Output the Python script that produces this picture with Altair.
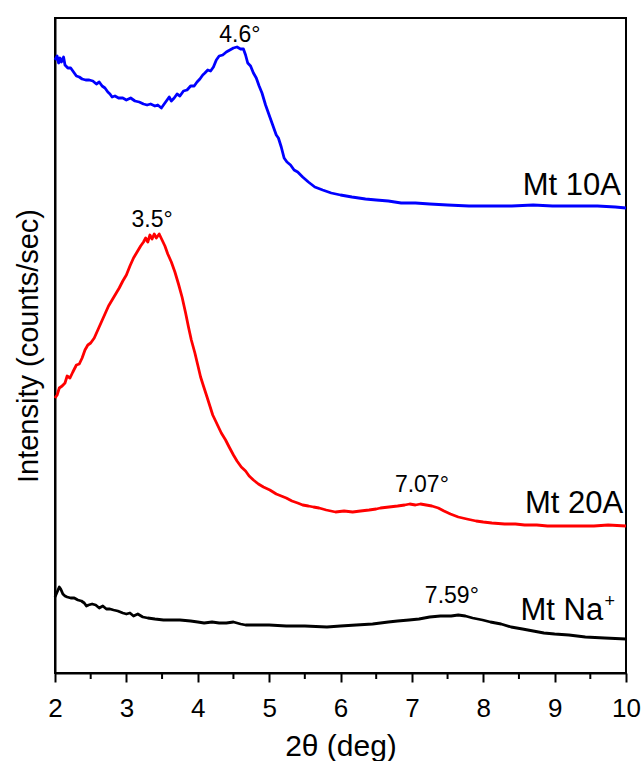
import altair as alt
import pandas as pd

# ---- data (2theta in deg, intensity in arbitrary counts) ----
blue_x = [2.00, 2.03, 2.05, 2.07, 2.09, 2.12, 2.14, 2.18, 2.22, 2.26, 2.30, 2.34, 2.38, 2.43, 2.48, 2.53,
          2.58, 2.62, 2.66, 2.70, 2.74, 2.77, 2.80, 2.84, 2.89, 2.95, 3.00, 3.06, 3.12, 3.18, 3.24, 3.29,
          3.34, 3.40, 3.44, 3.49, 3.53, 3.57, 3.60, 3.63, 3.67, 3.71, 3.75, 3.80, 3.85, 3.90, 3.95, 3.99,
          4.03, 4.07, 4.10, 4.14, 4.18, 4.22, 4.26, 4.30, 4.35, 4.40, 4.45, 4.50, 4.55, 4.60, 4.64, 4.67,
          4.70, 4.74, 4.78, 4.82, 4.86, 4.90, 4.95, 5.00, 5.05, 5.10, 5.13, 5.17, 5.21, 5.25, 5.30, 5.35,
          5.40, 5.47, 5.55, 5.64, 5.75, 5.87, 6.00, 6.16, 6.35, 6.50, 6.67, 6.85, 7.05, 7.25, 7.50, 7.80,
          8.11, 8.40, 8.70, 8.97, 9.30, 9.60, 9.85, 10.00]
blue_y = [613, 617, 610, 615, 611, 616, 608, 605, 605, 601, 597, 596, 594, 593, 593, 592,
          589, 591, 587, 585, 581, 579, 576, 577, 575, 575, 573, 575, 572, 571, 569, 568,
          569, 567, 568, 565, 569, 573, 576, 572, 575, 579, 577, 582, 583, 587, 587, 591,
          594, 598, 600, 603, 602, 606, 613, 617, 618, 621, 623, 625, 626, 624, 624, 618,
          610, 607, 600, 595, 587, 580, 568, 558, 548, 538, 535, 526, 515, 511, 508, 503,
          501, 496, 491, 486, 483, 480, 478, 476, 474, 473, 472, 470, 470, 469, 468, 467,
          467, 467, 468, 467, 467, 467, 466, 465]

red_x = [2.00, 2.03, 2.06, 2.10, 2.14, 2.17, 2.21, 2.25, 2.30, 2.34, 2.38, 2.42, 2.46, 2.50, 2.55, 2.60,
         2.65, 2.70, 2.75, 2.80, 2.85, 2.90, 2.95, 3.00, 3.05, 3.10, 3.15, 3.20, 3.24, 3.27, 3.30, 3.33,
         3.36, 3.39, 3.42, 3.46, 3.50, 3.54, 3.58, 3.63, 3.68, 3.73, 3.78, 3.83, 3.87, 3.91, 3.96, 4.00,
         4.04, 4.08, 4.13, 4.17, 4.21, 4.27, 4.33, 4.39, 4.44, 4.50, 4.55, 4.61, 4.67, 4.72, 4.78, 4.85,
         4.92, 5.01, 5.10, 5.17, 5.24, 5.32, 5.40, 5.47, 5.55, 5.62, 5.70, 5.80, 5.93, 6.05, 6.17, 6.28,
         6.40, 6.50, 6.56, 6.68, 6.80, 6.90, 6.97, 7.05, 7.12, 7.20, 7.28, 7.37, 7.45, 7.54, 7.65, 7.77,
         7.90, 8.00, 8.12, 8.30, 8.45, 8.58, 8.75, 8.90, 9.05, 9.15, 9.35, 9.55, 9.75, 10.00]
red_y = [275, 278, 285, 287, 290, 297, 295, 301, 308, 309, 315, 323, 328, 330, 335, 343,
         351, 359, 367, 373, 379, 385, 392, 398, 407, 415, 421, 427, 431, 435, 431, 438,
         434, 439, 435, 439, 433, 427, 419, 411, 401, 389, 376, 360, 346, 333, 320, 308,
         296, 287, 276, 267, 258, 249, 240, 233, 226, 218, 212, 206, 202, 197, 193, 189,
         186, 183, 179, 177, 175, 172, 170, 168, 167, 166, 165, 163, 161, 162, 161, 162,
         163, 164, 165, 166, 167, 168, 169, 168, 169, 168, 167, 165, 162, 159, 156, 154,
         152, 151, 150, 149, 149, 148, 148, 147, 147, 147, 147, 147, 148, 147]

black_x = [2.00, 2.03, 2.06, 2.08, 2.11, 2.14, 2.17, 2.22, 2.27, 2.32, 2.37, 2.41, 2.44, 2.47, 2.52, 2.57,
           2.62, 2.67, 2.72, 2.77, 2.82, 2.88, 2.95, 3.00, 3.05, 3.10, 3.16, 3.23, 3.30, 3.40, 3.52, 3.62,
           3.75, 3.90, 4.00, 4.09, 4.20, 4.30, 4.40, 4.50, 4.60, 4.67, 4.80, 5.00, 5.24, 5.50, 5.81, 6.00,
           6.22, 6.45, 6.67, 6.80, 6.96, 7.10, 7.25, 7.40, 7.55, 7.65, 7.75, 7.85, 7.99, 8.10, 8.25, 8.39,
           8.55, 8.70, 8.85, 9.00, 9.20, 9.43, 9.70, 10.00]
black_y = [76, 81, 86, 84, 79, 77, 76, 75, 75, 73, 72, 70, 67, 68, 69, 68,
           65, 67, 64, 64, 63, 62, 60, 59, 60, 57, 59, 56, 55, 54, 53, 53,
           53, 52, 51, 50, 51, 50, 50, 51, 49, 48, 48, 48, 47, 47, 46, 47,
           48, 49, 51, 52, 53, 54, 56, 57, 57, 58, 57, 55, 53, 51, 49, 46,
           44, 42, 40, 39, 38, 36, 35, 34]

x_min, x_max = 2, 10
y_min, y_max = 0, 655

series_names = ["Mt 10A", "Mt 20A", "Mt Na"]
series_colors = ["#0000FF", "#FF0000", "#000000"]

# curve labels
label_text = ["Mt 10A", "Mt 20A", "Mt Na"]
label_x = [9.93, 9.96, 9.68]
label_y = [478, 160, 53]

sup_text = ["+"]
sup_x = [9.70]
sup_y = [66]

# peak annotations
peak_text = ["4.6°", "3.5°", "7.07°", "7.59°"]
peak_x = [4.59, 3.36, 7.14, 7.56]
peak_y = [631, 446, 181, 70]

major_ticks = [2, 3, 4, 5, 6, 7, 8, 9, 10]
minor_ticks = [2.5, 3.5, 4.5, 5.5, 6.5, 7.5, 8.5, 9.5]

FONT = "Liberation Sans"
W, H = 571, 655

rows = []
for name, xs, ys in [("Mt 10A", blue_x, blue_y), ("Mt 20A", red_x, red_y), ("Mt Na", black_x, black_y)]:
    for i, (a, b) in enumerate(zip(xs, ys)):
        rows.append({"series": name, "deg": a, "intensity": b, "order": i})
df = pd.DataFrame(rows)

xscale = alt.Scale(domain=[x_min, x_max], nice=False, zero=False)
yscale = alt.Scale(domain=[y_min, y_max], nice=False, zero=False)

# box around the plot area (drawn first, underneath the curves)
frame = alt.Chart(pd.DataFrame({"k": [0]})).mark_rect(
    fill="white", fillOpacity=0, stroke="black", strokeWidth=2
).encode(x=alt.value(0), x2=alt.value(W), y=alt.value(0), y2=alt.value(H))

lines = alt.Chart(df).mark_line(strokeWidth=2.8, strokeJoin="round").encode(
    x=alt.X("deg:Q", scale=xscale,
            axis=alt.Axis(title="2θ (deg)", values=major_ticks, format="d",
                          labelFontSize=26, titleFontSize=30, labelFont=FONT, titleFont=FONT,
                          titleFontWeight="normal", labelColor="black", titleColor="black",
                          tickSize=9, tickWidth=2, tickColor="black", domainColor="black",
                          domainWidth=2, labelPadding=13, titlePadding=10, grid=False,
                          labelFlush=False)),
    y=alt.Y("intensity:Q", scale=yscale,
            axis=alt.Axis(title="Intensity (counts/sec)", labels=False, ticks=False, grid=False,
                          titleFontSize=29, titleFont=FONT, titleFontWeight="normal",
                          titleColor="black", domainColor="black", domainWidth=2,
                          titlePadding=12)),
    color=alt.Color("series:N", scale=alt.Scale(domain=series_names, range=series_colors), legend=None),
    detail="series:N",
    order="order:Q",
)

minor = alt.Chart(pd.DataFrame({"t": minor_ticks})).mark_rule(color="black", strokeWidth=2).encode(
    x=alt.X("t:Q", scale=xscale),
    y=alt.value(H),
    y2=alt.value(H + 6),
)

labels = alt.Chart(pd.DataFrame({"t": label_text, "x": label_x, "y": label_y})).mark_text(
    align="right", baseline="alphabetic", fontSize=31, font=FONT, color="black"
).encode(x=alt.X("x:Q", scale=xscale), y=alt.Y("y:Q", scale=yscale), text="t:N")

sup = alt.Chart(pd.DataFrame({"t": sup_text, "x": sup_x, "y": sup_y})).mark_text(
    align="left", baseline="alphabetic", fontSize=18, font=FONT, color="black"
).encode(x=alt.X("x:Q", scale=xscale), y=alt.Y("y:Q", scale=yscale), text="t:N")

peaks = alt.Chart(pd.DataFrame({"t": peak_text, "x": peak_x, "y": peak_y})).mark_text(
    align="center", baseline="alphabetic", fontSize=23, font=FONT, color="black"
).encode(x=alt.X("x:Q", scale=xscale), y=alt.Y("y:Q", scale=yscale), text="t:N")

chart = alt.layer(frame, lines, minor, labels, sup, peaks).properties(
    width=W, height=H,
    background="white",
    autosize=alt.AutoSizeParams(type="none"),
    padding={"left": 55, "top": 18, "right": 16, "bottom": 88},
).configure_view(stroke="black", strokeWidth=2)

chart.save("out.html", embed_options={"renderer": "svg", "actions": False})
